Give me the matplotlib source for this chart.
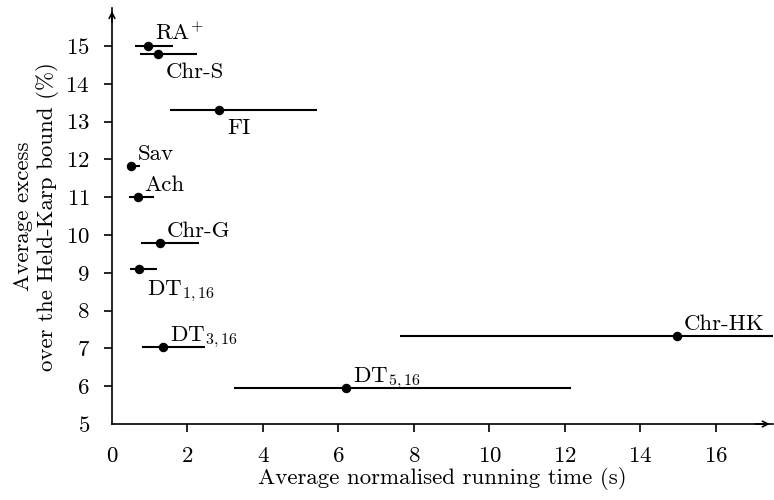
import matplotlib
matplotlib.use('Agg')
import matplotlib.pyplot as plt

plt.rcParams['font.family'] = 'cmr10'
plt.rcParams['mathtext.fontset'] = 'cm'
plt.rcParams['axes.unicode_minus'] = False
plt.rcParams['axes.formatter.use_mathtext'] = True

# algoritmos: tiempo medio (s), exceso medio (%), rango de tiempos
names = [r'$\mathrm{RA}^{\!+}$', 'Chr-S', 'FI', 'Sav', 'Ach', 'Chr-G',
         r'$\mathrm{DT}_{1,16}$', r'$\mathrm{DT}_{3,16}$',
         r'$\mathrm{DT}_{5,16}$', 'Chr-HK']
time = [0.96, 1.22, 2.83, 0.50, 0.68, 1.27, 0.71, 1.36, 6.19, 14.96]
excess = [15.0, 14.8, 13.31, 11.82, 11.0, 9.79, 9.09, 7.03, 5.95, 7.32]
t_lo = [0.61, 0.74, 1.54, 0.42, 0.46, 0.76, 0.48, 0.79, 3.22, 7.62]
t_hi = [1.62, 2.24, 5.43, 0.74, 1.11, 2.31, 1.18, 2.47, 12.15, 22.3]
# posicion de la etiqueta: arriba o abajo del punto
label_pos = ['up', 'down', 'down', 'up', 'up', 'up', 'down', 'up', 'up', 'up']

FS = 16.5

fig = plt.figure(figsize=(7.74, 5), dpi=100)
ax = fig.add_axes([0.1447, 0.152, 0.8535, 0.8316])

xerr = [[t - lo for t, lo in zip(time, t_lo)],
        [hi - t for t, hi in zip(time, t_hi)]]
ax.errorbar(time, excess, xerr=xerr, fmt='o', color='black',
            markersize=5.8, elinewidth=1.5, capsize=0)

for name, x, y, pos in zip(names, time, excess, label_pos):
    if pos == 'up':
        ax.annotate(name, (x, y), xytext=(7, 6), textcoords='offset pixels',
                    ha='left', va='baseline', fontsize=FS)
    else:
        ax.annotate(name, (x, y), xytext=(8, -9), textcoords='offset pixels',
                    ha='left', va='top', fontsize=FS)

ax.set_xlim(0, 17.5)
ax.set_ylim(5, 16)
ax.set_xticks(range(0, 17, 2))
ax.set_yticks(range(5, 16))
ax.tick_params(labelsize=FS, width=1.2, length=6, direction='out', pad=10)
# sin marca en la esquina
ax.xaxis.get_major_ticks()[0].tick1line.set_visible(False)
ax.yaxis.get_major_ticks()[0].tick1line.set_visible(False)

ax.spines['top'].set_visible(False)
ax.spines['right'].set_visible(False)
ax.spines['left'].set_linewidth(1.2)
ax.spines['bottom'].set_linewidth(1.2)

# flechas en los ejes
ax.annotate('', xy=(1.0, 0), xytext=(0.97, 0), xycoords='axes fraction',
            arrowprops=dict(arrowstyle='->', lw=1.2, color='black'))
ax.annotate('', xy=(0, 1.0), xytext=(0, 0.96), xycoords='axes fraction',
            arrowprops=dict(arrowstyle='->', lw=1.2, color='black'))

ax.set_xlabel('Average normalised running time (s)', fontsize=FS, labelpad=1)
ax.set_ylabel('Average excess\nover the Held-Karp bound (%)', fontsize=FS,
              linespacing=1.2)
ax.yaxis.set_label_coords(-0.08, 0.5)

fig.savefig('out.png', dpi=100)
